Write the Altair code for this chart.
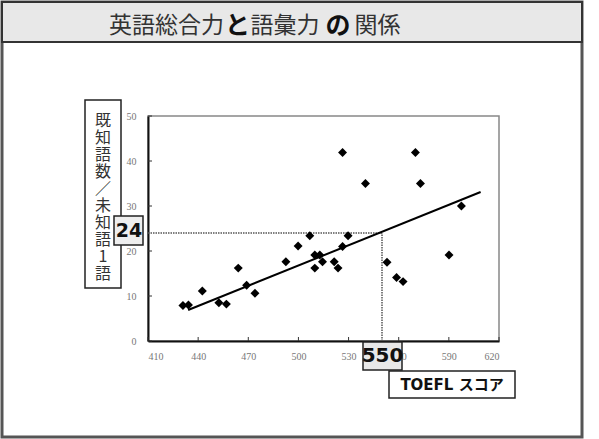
import altair as alt
import pandas as pd

# ---- data ----
toefl = [430.9, 434.2, 442.5, 452.4, 456.9, 464.0, 469.0, 474.0, 492.5, 499.8,
         506.8, 509.8, 512.8, 514.4, 509.8, 521.4, 523.7, 526.4, 529.7, 526.4,
         540.1, 570.0, 573.0, 553.0, 558.7, 562.6, 590.1, 597.5]
ratio = [7.9, 8.0, 11.1, 8.5, 8.2, 16.2, 12.4, 10.6, 17.6, 21.1,
         23.4, 19.1, 19.1, 17.6, 16.2, 17.6, 16.2, 21.0, 23.4, 41.9,
         35.0, 41.9, 35.0, 17.5, 14.1, 13.2, 19.1, 30.0]
fit_x = [434, 609]
fit_y = [6.9, 33.1]
ref_x = 550
ref_y = 24
x_ticks = [410, 440, 470, 500, 530, 560, 590, 620]
y_ticks = [0, 10, 20, 30, 40, 50]
title_parts = ["英語総合力", "と", "語彙力", "の", "関係"]
y_title = ["既", "知", "語", "数", "／", "未", "知", "語", "1", "語"]
x_title = "TOEFL スコア"

pts = pd.DataFrame({"x": toefl, "y": ratio})
fit = pd.DataFrame({"x": fit_x, "y": fit_y})
xt = pd.DataFrame({"x": x_ticks})
yt = pd.DataFrame({"y": y_ticks})
one = alt.Data(values=[{}])

xs = alt.Scale(domain=[410, 620], nice=False, zero=False)
ys = alt.Scale(domain=[0, 50], nice=False)

xaxis = alt.Axis(values=x_ticks, ticks=False, tickSize=0, labelPadding=10,
                 labelFont="Liberation Serif", labelFontSize=10, labelColor="#777",
                 domainColor="#111", domainWidth=2, grid=False, title=None)
yaxis = alt.Axis(values=y_ticks, ticks=False, tickSize=0, labelPadding=12,
                 labelFont="Liberation Serif", labelFontSize=10, labelColor="#777",
                 domainColor="#111", domainWidth=2, grid=False, title=None)

# decorations (pixel positions relative to plot origin)
frame = alt.Chart(one).mark_rect(fillOpacity=0, stroke="#555", strokeWidth=3).encode(
    x=alt.value(-146), x2=alt.value(434), y=alt.value(-114), y2=alt.value(321))
titlebar = alt.Chart(one).mark_rect(fill="#e8e8e8", stroke="#333", strokeWidth=2).encode(
    x=alt.value(-146), x2=alt.value(434), y=alt.value(-114), y2=alt.value(-74))

title_x = [18.5, 89.5, 137, 190, 229.5]
title_layers = []
for i, (t, px) in enumerate(zip(title_parts, title_x)):
    bold = i in (1, 3)
    title_layers.append(
        alt.Chart(one).mark_text(
            text=t, font="Noto Sans CJK JP", fontSize=23 if not bold else 25,
            fontWeight="bold" if bold else "normal",
            color="#111" if bold else "#333", align="center", baseline="middle"
        ).encode(x=alt.value(px), y=alt.value(-90)))

ybox = alt.Chart(one).mark_rect(fill="white", stroke="#222", strokeWidth=1.5).encode(
    x=alt.value(-63), x2=alt.value(-27), y=alt.value(-16), y2=alt.value(172))
ytext = alt.Chart(one).mark_text(
    text=y_title, font="Noto Sans CJK JP", fontSize=16, lineHeight=17,
    color="#333", align="center", baseline="middle").encode(
    x=alt.value(-45), y=alt.value(5))

base = alt.Chart(pts)
plot_pts = base.mark_point(shape="diamond", filled=True, color="black", size=80, opacity=1).encode(
    x=alt.X("x:Q", scale=xs, axis=xaxis), y=alt.Y("y:Q", scale=ys, axis=yaxis))

fit_line = alt.Chart(fit).mark_line(color="black", strokeWidth=2).encode(
    x=alt.X("x:Q", scale=xs), y=alt.Y("y:Q", scale=ys))

href = alt.Chart(pd.DataFrame({"x": [410], "x2": [ref_x], "y": [ref_y]})).mark_rule(
    color="#555", strokeWidth=1.5, strokeDash=[1.5, 1]).encode(
    x=alt.X("x:Q", scale=xs), x2="x2:Q", y=alt.Y("y:Q", scale=ys))
vref = alt.Chart(pd.DataFrame({"x": [ref_x], "y": [0], "y2": [ref_y]})).mark_rule(
    color="#555", strokeWidth=1.5, strokeDash=[1.5, 1]).encode(
    x=alt.X("x:Q", scale=xs), y=alt.Y("y:Q", scale=ys), y2="y2:Q")

xtick_marks = alt.Chart(xt).mark_rule(color="#333", strokeWidth=1).encode(
    x=alt.X("x:Q", scale=xs), y=alt.value(225), y2=alt.value(221))
ytick_marks = alt.Chart(yt).mark_rule(color="#333", strokeWidth=1).encode(
    y=alt.Y("y:Q", scale=ys), x=alt.value(0), x2=alt.value(4))

box24 = alt.Chart(one).mark_rect(fill="#eeeeee", stroke="#222", strokeWidth=1.5).encode(
    x=alt.value(-34), x2=alt.value(-5), y=alt.value(100), y2=alt.value(129))
text24 = alt.Chart(one).mark_text(text=str(ref_y), font="DejaVu Sans", fontWeight="bold",
                                  fontSize=19, color="#111", align="center", baseline="middle").encode(
    x=alt.value(-19), y=alt.value(115))
box550 = alt.Chart(one).mark_rect(fill="#e8e8e8", stroke="#222", strokeWidth=1.5).encode(
    x=alt.value(215), x2=alt.value(254), y=alt.value(226), y2=alt.value(254))
text550 = alt.Chart(one).mark_text(text=str(ref_x), font="DejaVu Sans", fontWeight="bold",
                                   fontSize=20, color="#111", align="center", baseline="middle").encode(
    x=alt.value(234.5), y=alt.value(240))
boxx = alt.Chart(one).mark_rect(fill="white", stroke="#222", strokeWidth=1.5).encode(
    x=alt.value(241), x2=alt.value(367), y=alt.value(255), y2=alt.value(282))
textx = alt.Chart(one).mark_text(text=x_title, font="DejaVu Sans, Noto Sans CJK JP", fontWeight="bold",
                                 fontSize=15, color="#111", align="center", baseline="middle").encode(
    x=alt.value(304), y=alt.value(269))

chart = alt.layer(
    frame, titlebar, *title_layers, ybox, ytext,
    href, vref, fit_line, plot_pts, xtick_marks, ytick_marks,
    box24, text24, box550, text550, boxx, textx
).properties(
    width=351, height=225,
    autosize=alt.AutoSizeParams(type="none"),
    padding={"left": 148, "top": 116, "right": 100, "bottom": 98},
    background="white",
).configure_view(stroke="#888", strokeWidth=1.5)

chart.save("out.html", embed_options={"renderer": "svg", "actions": False})
